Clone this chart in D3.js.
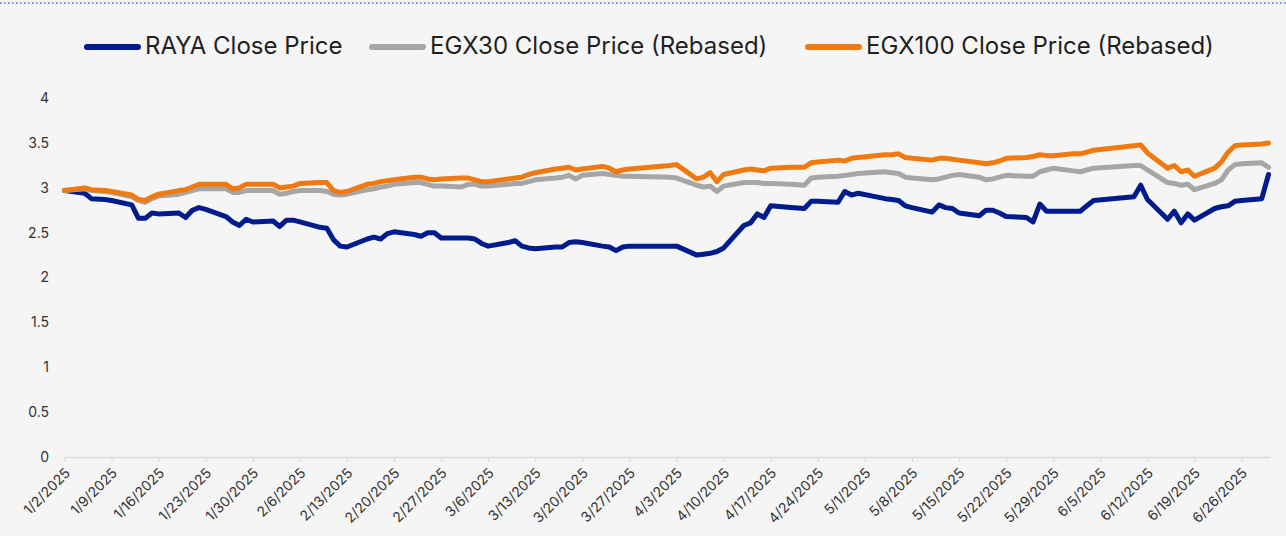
<!DOCTYPE html>
<html>
  <head>
    <meta charset="utf-8">
    <script src="https://d3js.org/d3.v7.min.js"></script>
    <title>RAYA vs EGX</title>
    <style>
      body { margin: 0; background: #f5f5f5; }
      svg { display: block; font-family: Inter, "Noto Sans", sans-serif; }
    </style>
  </head>
  <body>
  <script>
    // trading days
    var dates = ["1/2/2025","1/5/2025","1/6/2025","1/8/2025","1/9/2025","1/12/2025","1/13/2025","1/14/2025","1/15/2025","1/16/2025",
      "1/19/2025","1/20/2025","1/21/2025","1/22/2025","1/23/2025","1/26/2025","1/27/2025","1/28/2025","1/29/2025","1/30/2025",
      "2/2/2025","2/3/2025","2/4/2025","2/5/2025","2/6/2025","2/9/2025","2/10/2025","2/11/2025","2/12/2025","2/13/2025",
      "2/16/2025","2/17/2025","2/18/2025","2/19/2025","2/20/2025","2/23/2025","2/24/2025","2/25/2025","2/26/2025","2/27/2025",
      "3/2/2025","3/3/2025","3/4/2025","3/5/2025","3/6/2025","3/9/2025","3/10/2025","3/11/2025","3/12/2025","3/13/2025",
      "3/16/2025","3/17/2025","3/18/2025","3/19/2025","3/20/2025","3/23/2025","3/24/2025","3/25/2025","3/26/2025","3/27/2025",
      "4/2/2025","4/3/2025","4/6/2025","4/7/2025","4/8/2025","4/9/2025","4/10/2025","4/13/2025","4/14/2025","4/15/2025",
      "4/16/2025","4/17/2025","4/20/2025","4/22/2025","4/23/2025","4/24/2025","4/27/2025","4/28/2025","4/29/2025","4/30/2025",
      "5/4/2025","5/5/2025","5/6/2025","5/7/2025","5/8/2025","5/11/2025","5/12/2025","5/13/2025","5/14/2025","5/15/2025",
      "5/18/2025","5/19/2025","5/20/2025","5/21/2025","5/22/2025","5/25/2025","5/26/2025","5/27/2025","5/28/2025","5/29/2025",
      "6/1/2025","6/2/2025","6/3/2025","6/4/2025","6/10/2025","6/11/2025","6/12/2025","6/15/2025","6/16/2025","6/17/2025",
      "6/18/2025","6/19/2025","6/22/2025","6/23/2025","6/24/2025","6/25/2025","6/26/2025","6/29/2025","6/30/2025"];

    var raya = [2.97,2.94,2.88,2.87,2.86,2.81,2.66,2.66,2.72,2.71,
      2.72,2.67,2.75,2.78,2.76,2.68,2.62,2.58,2.65,2.62,
      2.63,2.57,2.64,2.64,2.62,2.56,2.55,2.42,2.35,2.34,
      2.43,2.45,2.43,2.49,2.51,2.48,2.46,2.50,2.50,2.44,
      2.44,2.44,2.43,2.38,2.35,2.39,2.41,2.35,2.33,2.32,
      2.34,2.34,2.39,2.40,2.39,2.35,2.34,2.30,2.34,2.35,
      2.35,2.35,2.25,2.26,2.27,2.29,2.33,2.58,2.61,2.71,
      2.67,2.80,2.78,2.77,2.85,2.85,2.84,2.96,2.92,2.94,
      2.88,2.87,2.86,2.80,2.78,2.73,2.81,2.78,2.77,2.72,
      2.69,2.75,2.75,2.72,2.68,2.67,2.62,2.82,2.74,2.74,
      2.74,2.74,2.80,2.86,2.90,3.03,2.87,2.65,2.74,2.61,
      2.71,2.64,2.77,2.79,2.80,2.85,2.86,2.88,3.15];

    var egx30 = [2.97,2.99,2.97,2.96,2.95,2.90,2.86,2.84,2.88,2.91,
      2.93,2.95,2.97,2.99,2.99,2.99,2.95,2.95,2.97,2.97,
      2.97,2.93,2.94,2.96,2.97,2.97,2.96,2.93,2.92,2.93,
      2.98,2.99,3.01,3.02,3.04,3.06,3.06,3.04,3.02,3.02,
      3.01,3.04,3.04,3.02,3.02,3.04,3.05,3.05,3.07,3.09,
      3.11,3.12,3.14,3.10,3.14,3.16,3.15,3.14,3.13,3.13,
      3.12,3.11,3.03,3.01,3.02,2.96,3.02,3.06,3.06,3.06,
      3.05,3.05,3.04,3.03,3.11,3.12,3.13,3.14,3.15,3.16,
      3.18,3.17,3.16,3.12,3.11,3.09,3.10,3.12,3.14,3.15,
      3.12,3.09,3.10,3.12,3.14,3.13,3.13,3.18,3.20,3.22,
      3.19,3.18,3.20,3.22,3.25,3.25,3.20,3.06,3.05,3.03,
      3.04,2.98,3.05,3.09,3.20,3.26,3.27,3.28,3.23];

    var egx100 = [2.97,3.00,2.98,2.97,2.96,2.92,2.87,2.86,2.90,2.93,
      2.97,2.98,3.01,3.04,3.04,3.04,2.99,3.00,3.04,3.04,
      3.04,3.00,3.01,3.02,3.05,3.06,3.06,2.97,2.95,2.96,
      3.04,3.05,3.07,3.08,3.09,3.12,3.12,3.10,3.09,3.10,
      3.11,3.11,3.09,3.07,3.07,3.10,3.11,3.12,3.15,3.17,
      3.21,3.22,3.23,3.20,3.21,3.24,3.22,3.18,3.20,3.21,
      3.25,3.26,3.10,3.12,3.17,3.07,3.15,3.20,3.21,3.20,
      3.19,3.22,3.23,3.23,3.28,3.29,3.31,3.30,3.33,3.34,
      3.37,3.37,3.38,3.34,3.33,3.31,3.33,3.33,3.32,3.31,
      3.28,3.27,3.28,3.30,3.33,3.34,3.35,3.37,3.36,3.36,
      3.38,3.38,3.40,3.42,3.47,3.48,3.39,3.22,3.25,3.18,
      3.20,3.13,3.22,3.29,3.40,3.47,3.48,3.49,3.50];

    var seriesNames = ["RAYA Close Price", "EGX30 Close Price (Rebased)", "EGX100 Close Price (Rebased)"];
    var seriesColors = ["#001c8c", "#a6a6a6", "#f07a10"];
    var tickLabels = ["1/2/2025","1/9/2025","1/16/2025","1/23/2025","1/30/2025","2/6/2025","2/13/2025","2/20/2025",
      "2/27/2025","3/6/2025","3/13/2025","3/20/2025","3/27/2025","4/3/2025","4/10/2025","4/17/2025","4/24/2025",
      "5/1/2025","5/8/2025","5/15/2025","5/22/2025","5/29/2025","6/5/2025","6/12/2025","6/19/2025","6/26/2025"];
    var yTicks = [0, 0.5, 1, 1.5, 2, 2.5, 3, 3.5, 4];

    var width = 1286, height = 536;
    var parse = d3.timeParse("%m/%d/%Y");

    var svg = d3.select("body").append("svg")
      .attr("width", width)
      .attr("height", height);

    // dotted rule along the top edge
    svg.append("line")
      .attr("x1", 0).attr("x2", width)
      .attr("y1", 3).attr("y2", 3)
      .attr("stroke", "#4d6fd3")
      .attr("stroke-width", 1.5)
      .attr("stroke-dasharray", "1.5,2.5");

    var x = d3.scaleTime()
      .domain([parse("1/2/2025"), parse("6/30/2025")])
      .range([64.5, 1268.5]);
    var y = d3.scaleLinear().domain([0, 4]).range([456.7, 98.3]);

    // y axis labels, no line
    var yAxis = svg.append("g")
      .attr("transform", "translate(49,0)")
      .call(d3.axisLeft(y).tickValues(yTicks).tickSize(0).tickPadding(0).tickFormat(d3.format("")))
      .attr("font-family", null)
      .attr("font-size", 14);
    yAxis.select(".domain").remove();
    yAxis.selectAll("text").attr("fill", "#333333");

    // x axis
    var xAxis = svg.append("g")
      .attr("transform", "translate(0,457)")
      .call(d3.axisBottom(x)
        .tickValues(tickLabels.map(parse))
        .tickSize(5)
        .tickSizeOuter(0)
        .tickFormat(d3.timeFormat("%-m/%-d/%Y")))
      .attr("font-family", null)
      .attr("font-size", 14);
    xAxis.select(".domain")
      .attr("d", "M64.5,0.5H1271")
      .attr("stroke", "#d9d9d9")
      .attr("stroke-width", 1.5);
    xAxis.selectAll(".tick line").attr("stroke", "#d9d9d9");
    xAxis.selectAll("text")
      .attr("fill", "#333333")
      .attr("text-anchor", "end")
      .attr("dy", 0)
      .attr("x", 0).attr("y", 0)
      .attr("transform", "translate(6,17) rotate(-45)");

    var rows = dates.map(function(d, i) {
      return { date: parse(d), values: [raya[i], egx30[i], egx100[i]] };
    });

    seriesNames.forEach(function(name, k) {
      var line = d3.line()
        .x(function(r) { return x(r.date); })
        .y(function(r) { return y(r.values[k]); });
      svg.append("path")
        .datum(rows)
        .attr("fill", "none")
        .attr("stroke", seriesColors[k])
        .attr("stroke-width", 5)
        .attr("stroke-linejoin", "round")
        .attr("stroke-linecap", "round")
        .attr("d", line);
    });

    // legend
    var legendX = [85, 370, 806];
    var legend = svg.selectAll(".legend")
      .data(seriesNames)
      .enter().append("g")
      .attr("class", "legend")
      .attr("transform", function(d, i) { return "translate(" + legendX[i] + ",46)"; });
    legend.append("line")
      .attr("x1", 2).attr("x2", 53)
      .attr("y1", 1).attr("y2", 1)
      .attr("stroke", function(d, i) { return seriesColors[i]; })
      .attr("stroke-width", 6)
      .attr("stroke-linecap", "round");
    legend.append("text")
      .attr("x", 60)
      .attr("dy", "0.35em")
      .attr("fill", "#1f1f1f")
      .style("font-size", "24px")
      .text(function(d) { return d; });
  </script>
</body>
</html>
